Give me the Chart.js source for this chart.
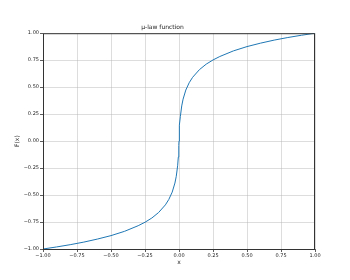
<!DOCTYPE html>
<html lang="en">
<head>
    <script src="https://cdn.jsdelivr.net/npm/chart.js"></script>
    <meta charset="UTF-8">
    <title>mu-law function</title>
<style>
    html, body { margin: 0; padding: 0; background: #fff; }
    #wrap { width: 350px; height: 280px; }
</style>
</head>
<body>
<div id="wrap"><canvas id="myChart" width="350" height="280"></canvas></div>

<script>
// valeurs
const xValues = [-1.0, -0.9, -0.8, -0.7, -0.6, -0.5, -0.4, -0.3, -0.25, -0.2, -0.15, -0.1, -0.075, -0.05, -0.03, -0.02, -0.01, -0.005, -0.002, -0.001, 0,
                 0.001, 0.002, 0.005, 0.01, 0.02, 0.03, 0.05, 0.075, 0.1, 0.15, 0.2, 0.25, 0.3, 0.4, 0.5, 0.6, 0.7, 0.8, 0.9, 1.0];
const yValues = [-1.0, -0.981, -0.960, -0.936, -0.908, -0.876, -0.836, -0.784, -0.752, -0.713, -0.662, -0.591, -0.541, -0.473, -0.389, -0.326, -0.229, -0.148, -0.074, -0.041, 0,
                 0.041, 0.074, 0.148, 0.229, 0.326, 0.389, 0.473, 0.541, 0.591, 0.662, 0.713, 0.752, 0.784, 0.836, 0.876, 0.908, 0.936, 0.960, 0.981, 1.0];
const tickValues = [-1.0, -0.75, -0.5, -0.25, 0, 0.25, 0.5, 0.75, 1.0];

const points = xValues.map((x, i) => ({ x: x, y: yValues[i] }));

const fontTick = { family: 'DejaVu Sans', size: 5 };
const fontLabel = { family: 'DejaVu Sans', size: 6, weight: 'normal' };

function fmt(v) {
    return v.toFixed(2).replace('-', '\u2212');
}

// cadre complet autour de la zone du graphique
const frame = {
    id: 'frame',
    afterDraw(chart) {
        const a = chart.chartArea;
        const ctx = chart.ctx;
        ctx.save();
        ctx.strokeStyle = '#333';
        ctx.lineWidth = 1;
        ctx.strokeRect(a.left + 0.5, a.top + 0.5, a.right - a.left - 1, a.bottom - a.top);
        ctx.restore();
    }
};

new Chart(document.getElementById('myChart'), {
    type: 'scatter',
    data: {
        datasets: [{
            data: points,
            showLine: true,
            borderColor: '#1f77b4',
            borderWidth: 1,
            pointRadius: 0,
            tension: 0
        }]
    },
    options: {
        responsive: false,
        animation: false,
        layout: { padding: { left: 10, right: 35, top: 0, bottom: 10 } },
        plugins: {
            legend: { display: false },
            tooltip: { enabled: false },
            title: {
                display: true,
                text: '\u03bc-law function',
                color: '#222',
                font: fontLabel,
                padding: { top: 24, bottom: 2 }
            }
        },
        scales: {
            x: {
                type: 'linear',
                min: -1, max: 1,
                afterBuildTicks: s => { s.ticks = tickValues.map(v => ({ value: v })); },
                afterFit: s => { s.height = 21; },
                ticks: { font: fontTick, color: '#222', padding: 1, maxRotation: 0, callback: v => fmt(v) },
                grid: { color: 'rgba(176,176,176,0.55)', lineWidth: 0.8, tickLength: 3, tickColor: '#333' },
                border: { display: false },
                title: { display: true, text: 'x', font: fontLabel, color: '#222', padding: { top: 0, bottom: 4 } }
            },
            y: {
                type: 'linear',
                min: -1, max: 1,
                afterBuildTicks: s => { s.ticks = tickValues.map(v => ({ value: v })); },
                afterFit: s => { s.width = 33; },
                ticks: { font: fontTick, color: '#222', padding: 1, callback: v => fmt(v) },
                grid: { color: 'rgba(176,176,176,0.55)', lineWidth: 0.8, tickLength: 3, tickColor: '#333' },
                border: { display: false },
                title: { display: true, text: 'F(x)', font: fontLabel, color: '#222', padding: { top: 4, bottom: 0 } }
            }
        }
    },
    plugins: [frame]
});
</script>
</body>
</html>
